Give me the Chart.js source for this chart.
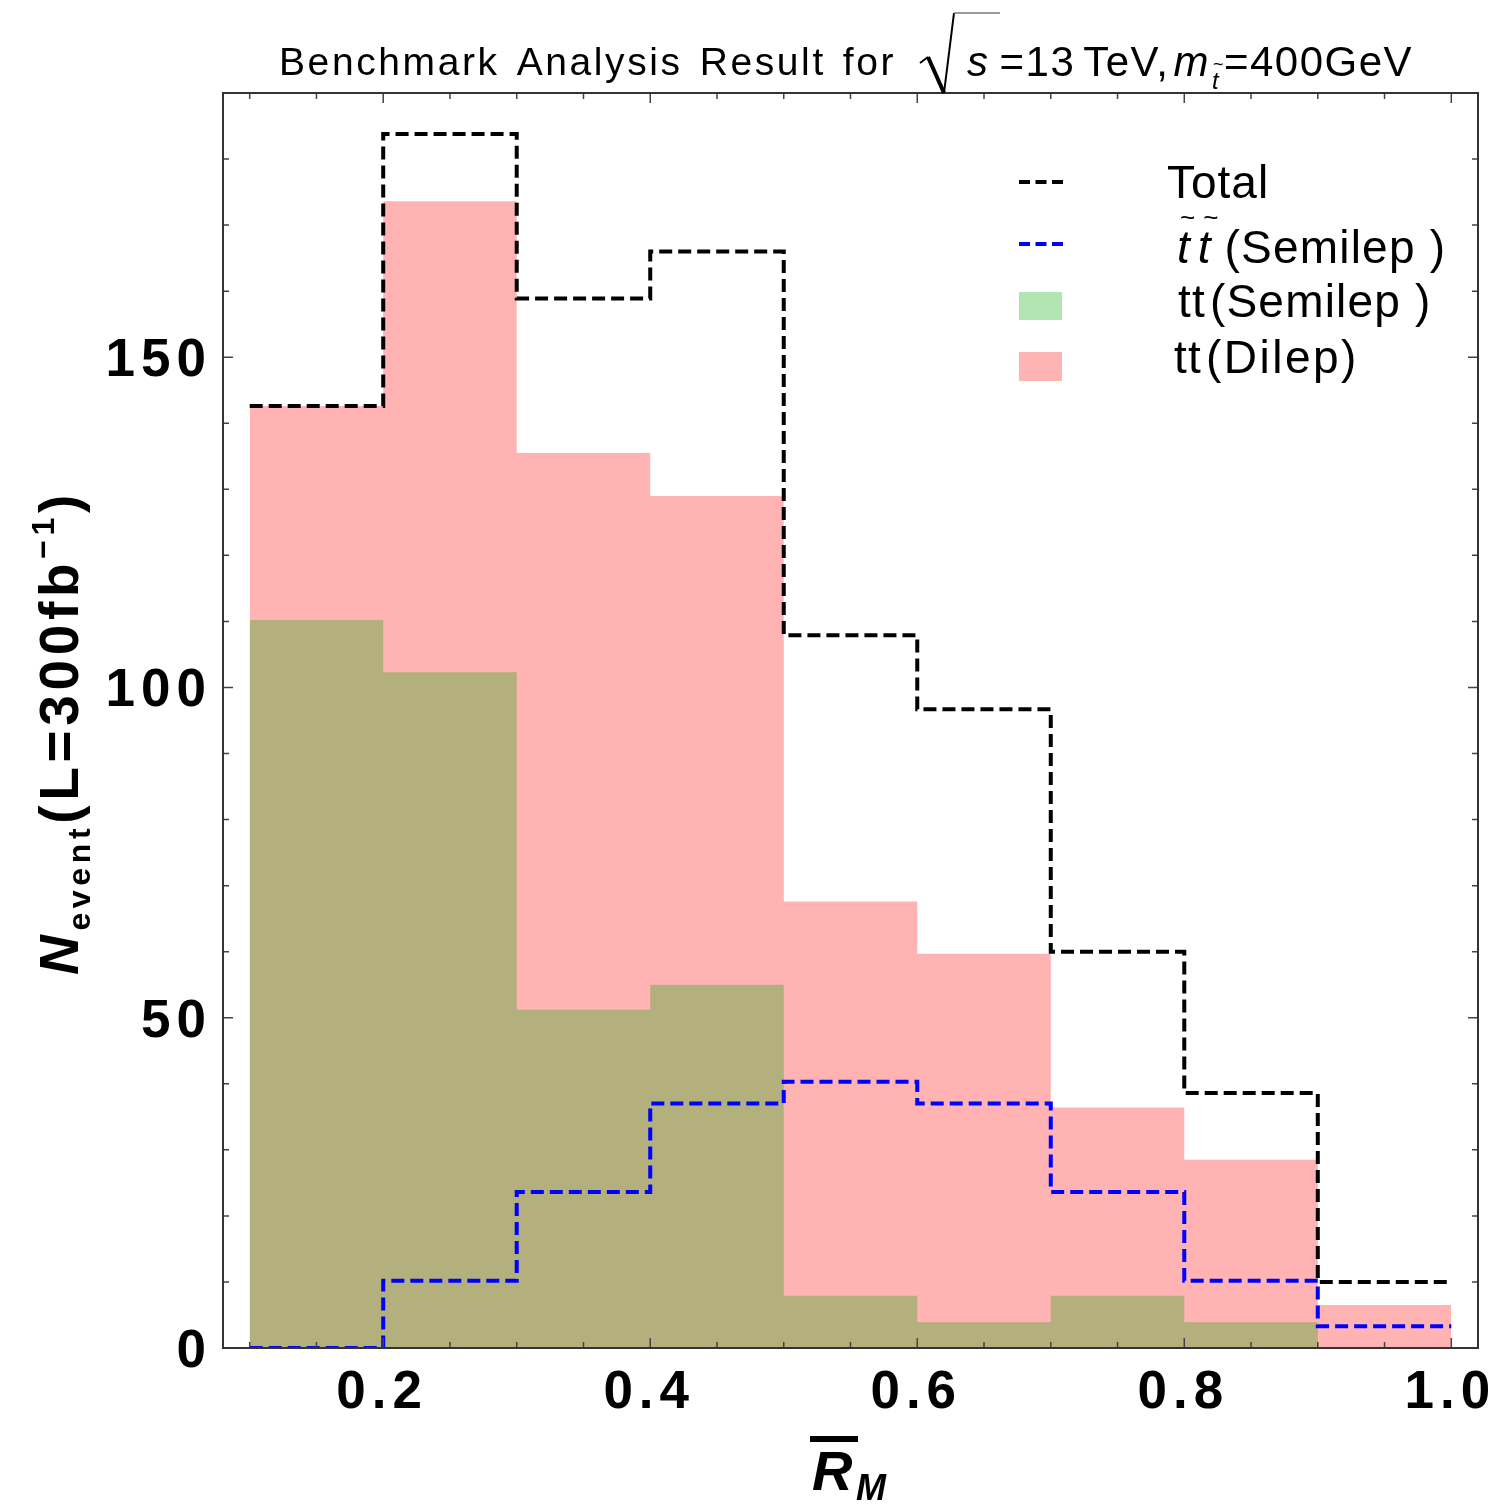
<!DOCTYPE html>
<html>
<head>
<meta charset="utf-8">
<script src="https://cdn.jsdelivr.net/npm/chart.js@4.4.1/dist/chart.umd.min.js"></script>
<style>
  html, body { margin: 0; padding: 0; background: #fff; }
  canvas { display: block; }
</style>
</head>
<body>
<canvas id="chart" width="1503" height="1504"></canvas>
<script>
// histogram of R_M for the benchmark point, 9 bins of 0.1
const binEdges = [0.1, 0.2, 0.3, 0.4, 0.5, 0.6, 0.7, 0.8, 0.9, 1.0];
const totalCounts   = [142.6, 183.8, 158.9, 166.0, 107.9, 96.7, 60.0, 38.6, 10.0];
const stopSemilep   = [0, 10.2, 23.6, 37.0, 40.3, 37.0, 23.6, 10.2, 3.3];
const ttSemilep     = [110.2, 102.3, 51.2, 55.0, 7.9, 3.9, 7.9, 3.9, 0];
const ttDilep       = [142.6, 173.6, 135.5, 129.0, 67.6, 59.7, 36.4, 28.5, 6.5];

const xMajorTicks = [0.2, 0.4, 0.6, 0.8, 1.0];
const xTickLabels = ['0.2', '0.4', '0.6', '0.8', '1.0'];
const xMinorTicks = [0.1, 0.15, 0.25, 0.3, 0.35, 0.45, 0.5, 0.55, 0.65, 0.7, 0.75, 0.85, 0.9, 0.95];
const yMajorTicks = [0, 50, 100, 150];
const yTickLabels = ['0', '50', '100', '150'];
const yMinorTicks = [10, 20, 30, 40, 60, 70, 80, 90, 110, 120, 130, 140, 160, 170, 180];

// one point per bin edge, last value repeated so the step closes at 1.0
function steps(vals) {
    return binEdges.map((x, i) => ({ x: x, y: vals[Math.min(i, vals.length - 1)] }));
}

// draw a row of text pieces with their own font / offset / spacing
function drawRuns(ctx, x, y, list) {
    list.forEach(r => {
        ctx.font = r.f;
        ctx.letterSpacing = '0px';
        const w = ctx.measureText(r.t).width + (r.ls || 0) * r.t.length;
        ctx.letterSpacing = (r.ls || 0) + 'px';
        ctx.fillText(r.t, x, y + (r.dy || 0));
        x += w + (r.gap || 0);
    });
    ctx.letterSpacing = '0px';
    return x;
}
function runsWidth(ctx, list) {
    let w = 0;
    list.forEach(r => {
        ctx.font = r.f; ctx.letterSpacing = '0px';
        w += ctx.measureText(r.t).width + (r.ls || 0) * r.t.length + (r.gap || 0);
    });
    return w;
}

const SANS = '"Liberation Sans", Arial, Helvetica, sans-serif';

const framePlugin = {
    id: 'frame',
    afterDraw(chart) {
        const ctx = chart.ctx;
        const a = chart.chartArea;
        const xs = chart.scales.x, ys = chart.scales.y;
        ctx.save();

        // ticks, inward on all four sides
        ctx.strokeStyle = '#444';
        ctx.lineWidth = 1.5;
        const tickX = (v, len) => {
            const px = xs.getPixelForValue(v);
            ctx.beginPath();
            ctx.moveTo(px, a.bottom); ctx.lineTo(px, a.bottom - len);
            ctx.moveTo(px, a.top); ctx.lineTo(px, a.top + len);
            ctx.stroke();
        };
        const tickY = (v, len) => {
            const py = ys.getPixelForValue(v);
            ctx.beginPath();
            ctx.moveTo(a.left, py); ctx.lineTo(a.left + len, py);
            ctx.moveTo(a.right, py); ctx.lineTo(a.right - len, py);
            ctx.stroke();
        };
        xMinorTicks.forEach(v => tickX(v, 6));
        xMajorTicks.forEach(v => tickX(v, 10));
        yMinorTicks.forEach(v => tickY(v, 6));
        yMajorTicks.forEach(v => tickY(v, 10));

        // frame
        ctx.strokeStyle = '#333';
        ctx.lineWidth = 2;
        ctx.strokeRect(a.left, a.top, a.right - a.left, a.bottom - a.top);

        ctx.fillStyle = '#000';
        ctx.textBaseline = 'alphabetic';
        ctx.textAlign = 'left';

        // tick labels
        const tickFont = 'bold 53px ' + SANS;
        xMajorTicks.forEach((v, i) => {
            const list = [{ t: xTickLabels[i], f: tickFont, ls: 6 }];
            const w = runsWidth(ctx, list) - 6;
            drawRuns(ctx, xs.getPixelForValue(v) - w / 2 - 4, 1408, list);
        });
        yMajorTicks.forEach((v, i) => {
            const list = [{ t: yTickLabels[i], f: tickFont, ls: 6 }];
            const w = runsWidth(ctx, list) - 6;
            drawRuns(ctx, 206 - w, ys.getPixelForValue(v) + 19, list);
        });

        // title
        const tf = '39px ' + SANS;
        drawRuns(ctx, 279, 75, [
            { t: 'Benchmark', f: tf, ls: 2.6, gap: 17 },
            { t: 'Analysis', f: tf, ls: 2.6, gap: 17 },
            { t: 'Result', f: tf, ls: 2.6, gap: 17 },
            { t: 'for', f: tf, ls: 2.6 }
        ]);
        let x = 920;
        ctx.strokeStyle = '#000';
        ctx.lineJoin = 'miter';
        ctx.lineWidth = 2;
        ctx.beginPath();
        ctx.moveTo(x, 63); ctx.lineTo(x + 8, 57);
        ctx.stroke();
        ctx.lineWidth = 4;
        ctx.beginPath();
        ctx.moveTo(x + 8, 57); ctx.lineTo(x + 24, 93);
        ctx.stroke();
        ctx.lineWidth = 2;
        ctx.beginPath();
        ctx.moveTo(x + 24, 93); ctx.lineTo(x + 34, 13);
        ctx.stroke();
        ctx.strokeStyle = '#777';
        ctx.lineWidth = 1.5;
        ctx.beginPath();
        ctx.moveTo(x + 34, 13); ctx.lineTo(x + 80, 13);
        ctx.stroke();
        const mf = '42px ' + SANS;
        const mi = 'italic 42px ' + SANS;
        x = drawRuns(ctx, 967, 76, [
            { t: 's', f: mi, ls: 1.5, gap: 10 },
            { t: '=13', f: mf, ls: 1.5, gap: 8 },
            { t: 'TeV,', f: mf, ls: 1.5, gap: 4 },
            { t: 'm', f: mi, ls: 1.5, gap: 2 }
        ]);
        drawRuns(ctx, x, 89, [{ t: 't', f: 'italic 24px ' + SANS }]);
        drawRuns(ctx, x + 1, 70, [{ t: '~', f: '18px ' + SANS }]);
        drawRuns(ctx, x + 12, 76, [{ t: '=400GeV', f: mf, ls: 1.5 }]);

        // y axis title, rotated
        const yList = [
            { t: 'N', f: 'italic bold 55px ' + SANS },
            { t: 'event', f: 'bold 32px ' + SANS, dy: 12 },
            { t: '(L=300fb', f: 'bold 55px ' + SANS },
            { t: '\u22121', f: 'bold 32px ' + SANS, dy: -24 },
            { t: ')', f: 'bold 55px ' + SANS }
        ];
        const natural = runsWidth(ctx, yList);
        const nChars = yList.reduce((s, r) => s + r.t.length, 0);
        const ls = (485 - natural) / nChars;
        yList.forEach(r => { r.ls = ls; });
        ctx.save();
        ctx.translate(78, 975);
        ctx.rotate(-Math.PI / 2);
        drawRuns(ctx, 0, 0, yList);
        ctx.restore();

        // x axis title: R-bar with subscript M
        drawRuns(ctx, 812, 1490, [{ t: 'R', f: 'italic bold 56px ' + SANS }]);
        ctx.fillRect(810, 1436, 48, 6);
        drawRuns(ctx, 856, 1500, [{ t: 'M', f: 'italic bold 36px ' + SANS }]);

        // legend
        const lf = '46px ' + SANS;
        const li = 'italic 46px ' + SANS;
        ctx.lineWidth = 4;
        ctx.setLineDash([11, 5.5]);
        ctx.strokeStyle = '#000';
        ctx.beginPath(); ctx.moveTo(1019, 182); ctx.lineTo(1064, 182); ctx.stroke();
        ctx.strokeStyle = '#0000ff';
        ctx.beginPath(); ctx.moveTo(1019, 244); ctx.lineTo(1064, 244); ctx.stroke();
        ctx.setLineDash([]);
        ctx.fillStyle = '#b3e5b3';
        ctx.fillRect(1019, 292, 43, 28);
        ctx.fillStyle = '#ffb3b3';
        ctx.fillRect(1019, 352, 43, 29);

        ctx.fillStyle = '#000';
        drawRuns(ctx, 1167, 198, [{ t: 'Total', f: lf, ls: 1 }]);
        drawRuns(ctx, 1177, 263, [{ t: 't', f: li, gap: 8 }, { t: 't', f: li, gap: 14 }, { t: '(Semilep )', f: lf, ls: 1.2 }]);
        drawRuns(ctx, 1180, 226, [{ t: '~', f: '26px ' + SANS, gap: 8 }, { t: '~', f: '26px ' + SANS }]);
        drawRuns(ctx, 1178, 317, [{ t: 'tt', f: lf, ls: 1.2, gap: 4 }, { t: '(Semilep )', f: lf, ls: 1.2 }]);
        drawRuns(ctx, 1174, 373, [{ t: 'tt', f: lf, ls: 1.2, gap: 4 }, { t: '(Dilep)', f: lf, ls: 2.5 }]);

        ctx.restore();
    }
};

const histLine = (label, vals, color, order) => ({
    label: label,
    data: steps(vals),
    stepped: 'before',
    borderColor: color,
    borderWidth: 4,
    borderDash: [13, 6],
    fill: false,
    pointRadius: 0,
    order: order
});
const histFill = (label, vals, color, order) => ({
    label: label,
    data: steps(vals),
    stepped: 'before',
    borderColor: 'rgba(0,0,0,0)',
    borderWidth: 0,
    backgroundColor: color,
    fill: 'origin',
    pointRadius: 0,
    order: order
});

new Chart(document.getElementById('chart').getContext('2d'), {
    type: 'line',
    data: {
        datasets: [
            histLine('Total', totalCounts, '#000000', 1),
            histLine('stop stop (Semilep)', stopSemilep, '#0000ff', 2),
            histFill('tt(Semilep)', ttSemilep, '#b3b07e', 3),
            histFill('tt(Dilep)', ttDilep, '#ffb3b3', 4)
        ]
    },
    options: {
        responsive: false,
        animation: false,
        devicePixelRatio: 1,
        layout: { padding: { top: 93, right: 25, left: 0, bottom: 0 } },
        plugins: { legend: { display: false }, tooltip: { enabled: false }, title: { display: false } },
        scales: {
            x: {
                type: 'linear', min: 0.08, max: 1.02,
                grid: { display: false }, border: { display: false },
                ticks: { display: false },
                afterFit(s) { s.height = 156; }
            },
            y: {
                type: 'linear', min: 0, max: 190,
                grid: { display: false }, border: { display: false },
                ticks: { display: false },
                afterFit(s) { s.width = 223; }
            }
        }
    },
    plugins: [framePlugin]
});
</script>
</body>
</html>
